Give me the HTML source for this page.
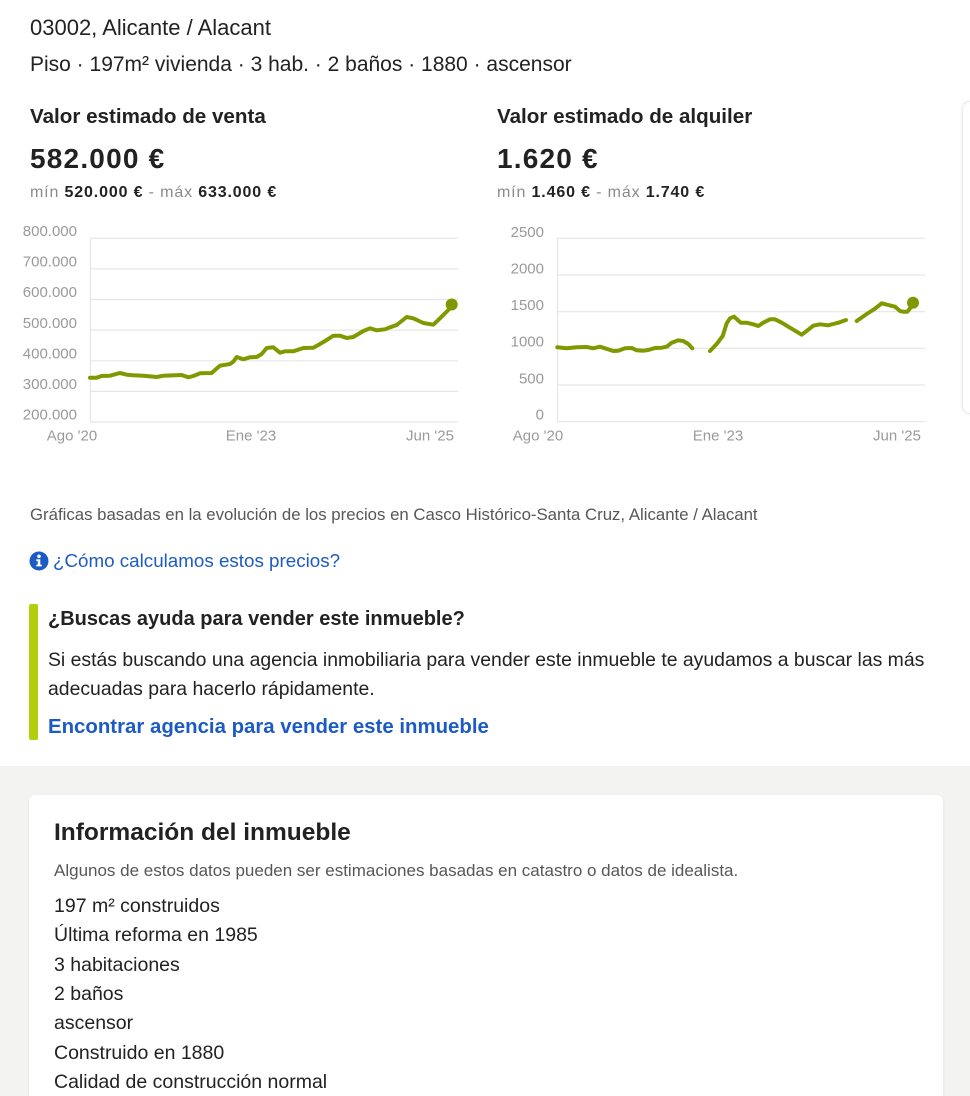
<!DOCTYPE html>
<html>
<head>
<meta charset="utf-8">
<style>
  html,body{margin:0;padding:0;width:970px;height:1096px;overflow:hidden;}
  body{background:#fff;position:relative;font-family:"Liberation Sans",sans-serif;color:#222;}
  .t{position:absolute;white-space:nowrap;}
  .b{font-weight:bold;}
  .g{color:#8a8a8a;}
  .blue{color:#1d5bc4;}
</style>
</head>
<body>

<div class="t" style="left:30px;top:15px;font-size:22px;line-height:26px;">03002, Alicante / Alacant</div>
<div class="t" style="left:30px;top:52px;font-size:21px;line-height:26px;">Piso · 197m² vivienda · 3 hab. · 2 baños · 1880 · ascensor</div>

<div class="t b" style="left:30px;top:105px;font-size:20.6px;line-height:24px;">Valor estimado de venta</div>
<div class="t b" style="left:497px;top:105px;font-size:20.6px;line-height:24px;">Valor estimado de alquiler</div>

<div class="t b" style="left:30px;top:142px;font-size:28px;line-height:34px;letter-spacing:1.2px;">582.000 €</div>
<div class="t b" style="left:497px;top:142px;font-size:28px;line-height:34px;letter-spacing:1.2px;">1.620 €</div>

<div class="t" style="left:30px;top:183px;font-size:16px;line-height:20px;letter-spacing:0.85px;"><span class="g">mín</span> <span class="b">520.000 €</span> <span class="g">-</span> <span class="g">máx</span> <span class="b">633.000 €</span></div>
<div class="t" style="left:497px;top:183px;font-size:16px;line-height:20px;letter-spacing:0.85px;"><span class="g">mín</span> <span class="b">1.460 €</span> <span class="g">-</span> <span class="g">máx</span> <span class="b">1.740 €</span></div>

<!-- right clipped card -->
<div style="position:absolute;left:962px;top:101px;width:40px;height:311px;border:1px solid #ececec;border-radius:8px;box-shadow:0 0 4px rgba(0,0,0,0.07);background:#fff;"></div>

<svg style="position:absolute;left:0;top:0;" width="970" height="460" xmlns="http://www.w3.org/2000/svg">
  <g stroke="#e6e6e6" stroke-width="1.2">
    <line x1="90" y1="238.3" x2="458" y2="238.3"/>
    <line x1="90" y1="268.9" x2="458" y2="268.9"/>
    <line x1="90" y1="299.5" x2="458" y2="299.5"/>
    <line x1="90" y1="330.1" x2="458" y2="330.1"/>
    <line x1="90" y1="360.8" x2="458" y2="360.8"/>
    <line x1="90" y1="391.4" x2="458" y2="391.4"/>
    <line x1="90" y1="422" x2="458" y2="422"/>
    <line x1="90.5" y1="238" x2="90.5" y2="422"/>

    <line x1="557" y1="238.3" x2="925" y2="238.3"/>
    <line x1="557" y1="275" x2="925" y2="275"/>
    <line x1="557" y1="311.7" x2="925" y2="311.7"/>
    <line x1="557" y1="348.3" x2="925" y2="348.3"/>
    <line x1="557" y1="385" x2="925" y2="385"/>
    <line x1="557" y1="421.7" x2="925" y2="421.7"/>
    <line x1="557.5" y1="238" x2="557.5" y2="422"/>
  </g>
  <g font-family="Liberation Sans, sans-serif" font-size="15" fill="#9a9a9a" text-anchor="end">
    <text x="77" y="236">800.000</text>
    <text x="77" y="266.5">700.000</text>
    <text x="77" y="297">600.000</text>
    <text x="77" y="328">500.000</text>
    <text x="77" y="358.5">400.000</text>
    <text x="77" y="389">300.000</text>
    <text x="77" y="419.5">200.000</text>

    <text x="544" y="237">2500</text>
    <text x="544" y="273.5">2000</text>
    <text x="544" y="310">1500</text>
    <text x="544" y="346.5">1000</text>
    <text x="544" y="383.5">500</text>
    <text x="544" y="419.5">0</text>
  </g>
  <g font-family="Liberation Sans, sans-serif" font-size="15" fill="#9a9a9a" text-anchor="middle">
    <text x="72" y="440.5">Ago '20</text>
    <text x="251" y="440.5">Ene '23</text>
    <text x="430" y="440.5">Jun '25</text>
    <text x="538" y="440.5">Ago '20</text>
    <text x="718" y="440.5">Ene '23</text>
    <text x="897" y="440.5">Jun '25</text>
  </g>
  <g fill="none" stroke="#7f9a00" stroke-width="4" stroke-linejoin="round" stroke-linecap="round">
    <polyline points="90,377.7 96.7,377.7 101.7,376 110,375.7 115,374.3 120,373 126.7,374.7 133.3,375.3 143.3,375.7 156.7,377 163.3,375.7 181.7,375 188.3,377.3 193.3,376 200,373.3 211.7,373 215,370 220,365.7 230,364 233.3,361.7 236.7,357 243.3,359.3 250,357.3 256.7,357 261.7,354 266.7,348 273.3,347.3 280,352.7 285,351.3 293.3,351.3 303.3,348 313.3,347.7 318.3,345 326.7,340 333.3,335.7 340,335.7 346.7,338 353.3,337 363.3,331 370,328.3 376.7,330.3 385,329.3 390,327.3 396.7,325 406.7,317 413.3,318.3 423.3,323 433.3,324.7 440,318.3 448.3,310 451.7,304.7"/>
    <polyline points="557.3,347.3 566.7,348.3 576.7,347.3 586.7,347 593.3,348.3 600,346.7 605,348.3 613.3,351 618.3,350.7 625,348.3 631.7,348 636.7,350.3 643.3,350.7 648.3,350 655,348 661.7,347.7 666.7,346.7 671.7,342.7 678.3,340.3 683.3,341 688.3,344 692.3,348.3"/>
    <polyline points="710,351 716.7,344 722.7,336 726.7,323.3 730,318.3 734,316.7 736.7,319 740.7,322.7 746.7,322.7 753.3,324.3 758.3,326 763.3,322.7 770,319.3 775,319.3 781.7,322.7 790,327.7 801.7,334.7 808.3,329.7 813.3,325.7 820,324.3 828.3,325.3 833.3,324 838.3,322.7 846,320"/>
    <polyline points="856.7,321 866.7,314 875,308.7 881.7,303.3 888.3,305 895,306.7 900,311 903.3,311.7 907.3,311.7 910,308.3 913.3,303.3"/>
  </g>
  <circle cx="451.7" cy="304.5" r="6" fill="#7f9a00"/>
  <circle cx="913" cy="302.7" r="6" fill="#7f9a00"/>
</svg>

<div class="t" style="left:30px;top:505px;font-size:16.8px;line-height:20px;color:#575757;">Gráficas basadas en la evolución de los precios en Casco Histórico-Santa Cruz, Alicante / Alacant</div>

<svg style="position:absolute;left:29px;top:551px;" width="20" height="20" xmlns="http://www.w3.org/2000/svg">
  <circle cx="10" cy="10" r="9.5" fill="#1d5bc4"/>
  <circle cx="10" cy="5.3" r="1.8" fill="#fff"/>
  <path d="M7.3 8.3 H11.3 V13.6 H12.8 V15.4 H7.3 V13.6 H8.8 V10.1 H7.3 Z" fill="#fff"/>
</svg>
<div class="t blue" style="left:53px;top:550px;font-size:18.8px;line-height:22px;">¿Cómo calculamos estos precios?</div>

<div style="position:absolute;left:29px;top:604px;width:9px;height:136px;background:#b3cf0b;border-radius:2px;"></div>
<div class="t b" style="left:48px;top:607px;font-size:20px;line-height:24px;">¿Buscas ayuda para vender este inmueble?</div>
<div class="t" style="left:48px;top:645.5px;font-size:19.4px;line-height:29px;">Si estás buscando una agencia inmobiliaria para vender este inmueble te ayudamos a buscar las más<br>adecuadas para hacerlo rápidamente.</div>
<div class="t b blue" style="left:48px;top:715px;font-size:20.4px;line-height:24px;">Encontrar agencia para vender este inmueble</div>

<div style="position:absolute;left:0;top:766px;width:970px;height:330px;background:#f3f3f2;"></div>
<div style="position:absolute;left:29px;top:795px;width:914px;height:301px;background:#fff;border-radius:6px 6px 0 0;box-shadow:0 1px 3px rgba(0,0,0,0.08);"></div>

<div class="t b" style="left:54px;top:818px;font-size:24.5px;line-height:30px;">Información del inmueble</div>
<div class="t" style="left:54px;top:861px;font-size:17px;line-height:20px;color:#575757;">Algunos de estos datos pueden ser estimaciones basadas en catastro o datos de idealista.</div>
<div class="t" style="left:54px;top:892px;font-size:19.5px;line-height:29.33px;">197 m² construidos<br>Última reforma en 1985<br>3 habitaciones<br>2 baños<br>ascensor<br>Construido en 1880<br>Calidad de construcción normal</div>

</body>
</html>
